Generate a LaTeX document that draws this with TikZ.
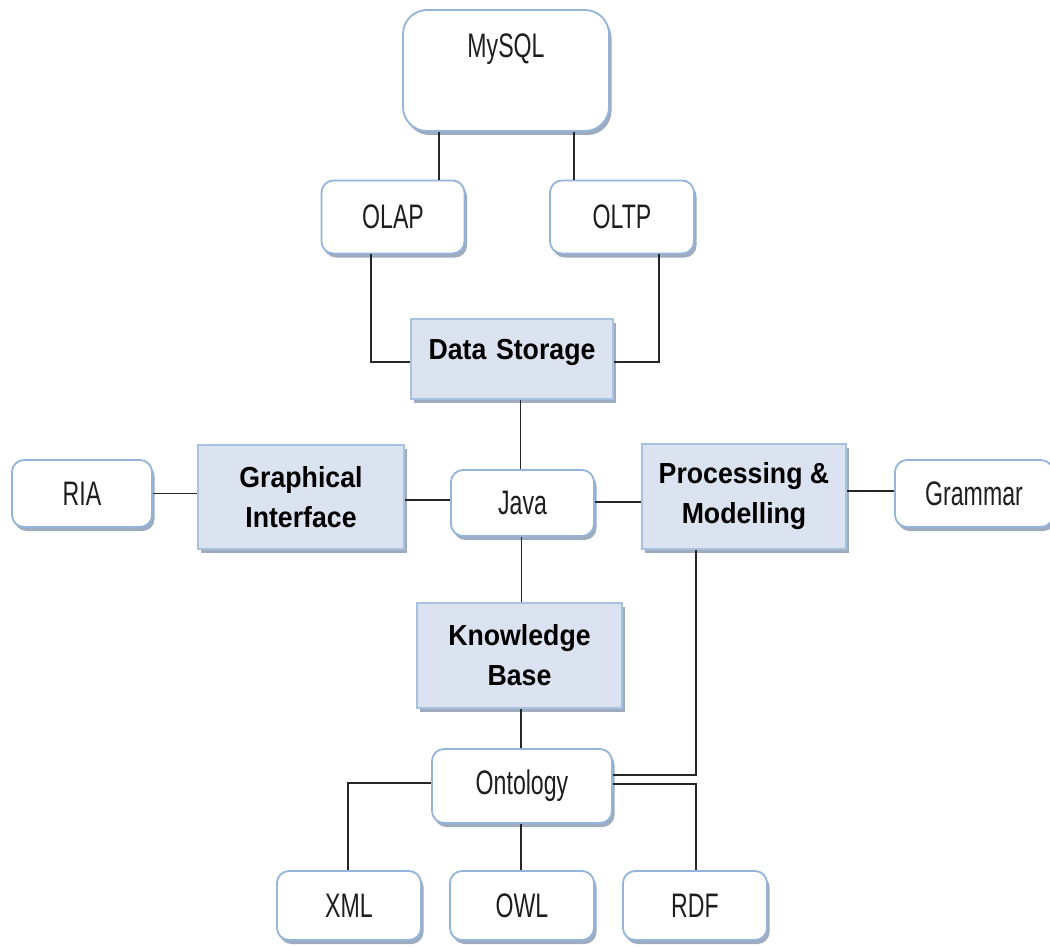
\documentclass[tikz,border=0pt]{standalone}
\usepackage{fontspec}
\usetikzlibrary{shadows}
\newfontfamily\regf[FakeStretch=0.68]{Liberation Sans}
\newfontfamily\boldf[FakeStretch=0.92]{Liberation Sans Bold}
\definecolor{wborder}{HTML}{94B4DA}
\definecolor{bfill}{HTML}{DCE3F0}
\definecolor{bborder}{HTML}{A8C1DF}
\definecolor{shad}{HTML}{8796AE}
\definecolor{txt}{HTML}{1E1E1E}
\definecolor{lin}{HTML}{262626}
\tikzset{
  wbox/.style={draw=wborder, line width=1.8pt, fill=white, rounded corners=12pt,
    inner sep=0pt, align=center, text=txt,
    font=\regf\fontsize{34}{40}\selectfont,
    drop shadow={shadow xshift=2.5pt, shadow yshift=-4pt, fill=shad, opacity=0.8}},
  bbox/.style={draw=bborder, line width=1.8pt, fill=bfill,
    inner sep=0pt, align=center, text=black,
    font=\boldf\fontsize{29}{40}\selectfont,
    drop shadow={shadow xshift=3pt, shadow yshift=-4pt, fill=shad, opacity=0.8}},
  conn/.style={draw=lin, line width=1.5pt}
}
\begin{document}
\begin{tikzpicture}[x=1pt,y=-1pt]
\useasboundingbox (0,0) rectangle (1050,947);
% white boxes
\node[wbox, rounded corners=24pt, minimum width=206pt, text width=206pt, text height=48pt, text depth=73pt] (mysql) at (506,70.5) {MySQL};
\node[wbox, minimum width=143pt, minimum height=73pt] (olap) at (393,217) {OLAP};
\node[wbox, minimum width=144pt, minimum height=73pt] (oltp) at (622,217) {OLTP};
\node[wbox, minimum width=140pt, minimum height=67pt] (ria) at (82,493.5) {RIA};
\node[wbox, minimum width=143pt, minimum height=66pt] (java) at (522.5,503) {Java};
\node[wbox, minimum width=158pt, minimum height=67pt] (gram) at (974,493.5) {Grammar};
\node[wbox, minimum width=180pt, minimum height=74pt] (onto) at (522,786) {Ontology};
\node[wbox, minimum width=144pt, minimum height=69pt] (xml) at (349,905.5) {XML};
\node[wbox, minimum width=144pt, minimum height=69pt] (owl) at (522,905.5) {OWL};
\node[wbox, minimum width=144pt, minimum height=69pt] (rdf) at (695,905.5) {RDF};
% blue boxes
\node[bbox, minimum width=202pt, text width=202pt, text height=40pt, text depth=40pt] (ds) at (512,359) {Data Storage};
\node[bbox, minimum width=206pt, minimum height=104pt] (gi) at (301,497) {Graphical\\Interface};
\node[bbox, minimum width=204pt, minimum height=105pt] (pm) at (744,496.5) {Processing \&\\Modelling};
\node[bbox, minimum width=205pt, minimum height=105pt] (kb) at (519.5,655.5) {Knowledge\\Base};
% connectors
\draw[conn] ([xshift=-67pt]mysql.south) -- ([xshift=-67pt]mysql.south |- olap.north);
\draw[conn] ([xshift=68pt]mysql.south) -- ([xshift=68pt]mysql.south |- oltp.north);
\draw[conn] ([xshift=-22pt]olap.south) |- ([yshift=-3pt]ds.west);
\draw[conn] ([xshift=37pt]oltp.south) |- ([yshift=-3pt]ds.east);
\draw[conn] ([xshift=-2pt]java.north) -- ([xshift=-2pt]java.north |- ds.south);
\draw[conn] (ria.east) -- (ria.east -| gi.west);
\draw[conn] ([yshift=3pt]java.west) -- ([yshift=3pt]java.west -| gi.east);
\draw[conn] ([yshift=1pt]java.east) -- ([yshift=1pt]java.east -| pm.west);
\draw[conn] ([yshift=2.5pt]gram.west) -- ([yshift=2.5pt]gram.west -| pm.east);
\draw[conn] ([xshift=-1pt]java.south) -- ([xshift=-1pt]java.south |- kb.north);
\draw[conn] ([xshift=-1pt]onto.north) -- ([xshift=-1pt]onto.north |- kb.south);
\draw[conn] ([xshift=-48pt]pm.south) |- ([yshift=11pt]onto.east);
\draw[conn] ([yshift=2pt]onto.east) -| ([xshift=1pt]rdf.north);
\draw[conn] ([yshift=3pt]onto.west) -| ([xshift=-1pt]xml.north);
\draw[conn] ([xshift=-1pt]onto.south) -- ([xshift=-1pt]owl.north);
\end{tikzpicture}
\end{document}
